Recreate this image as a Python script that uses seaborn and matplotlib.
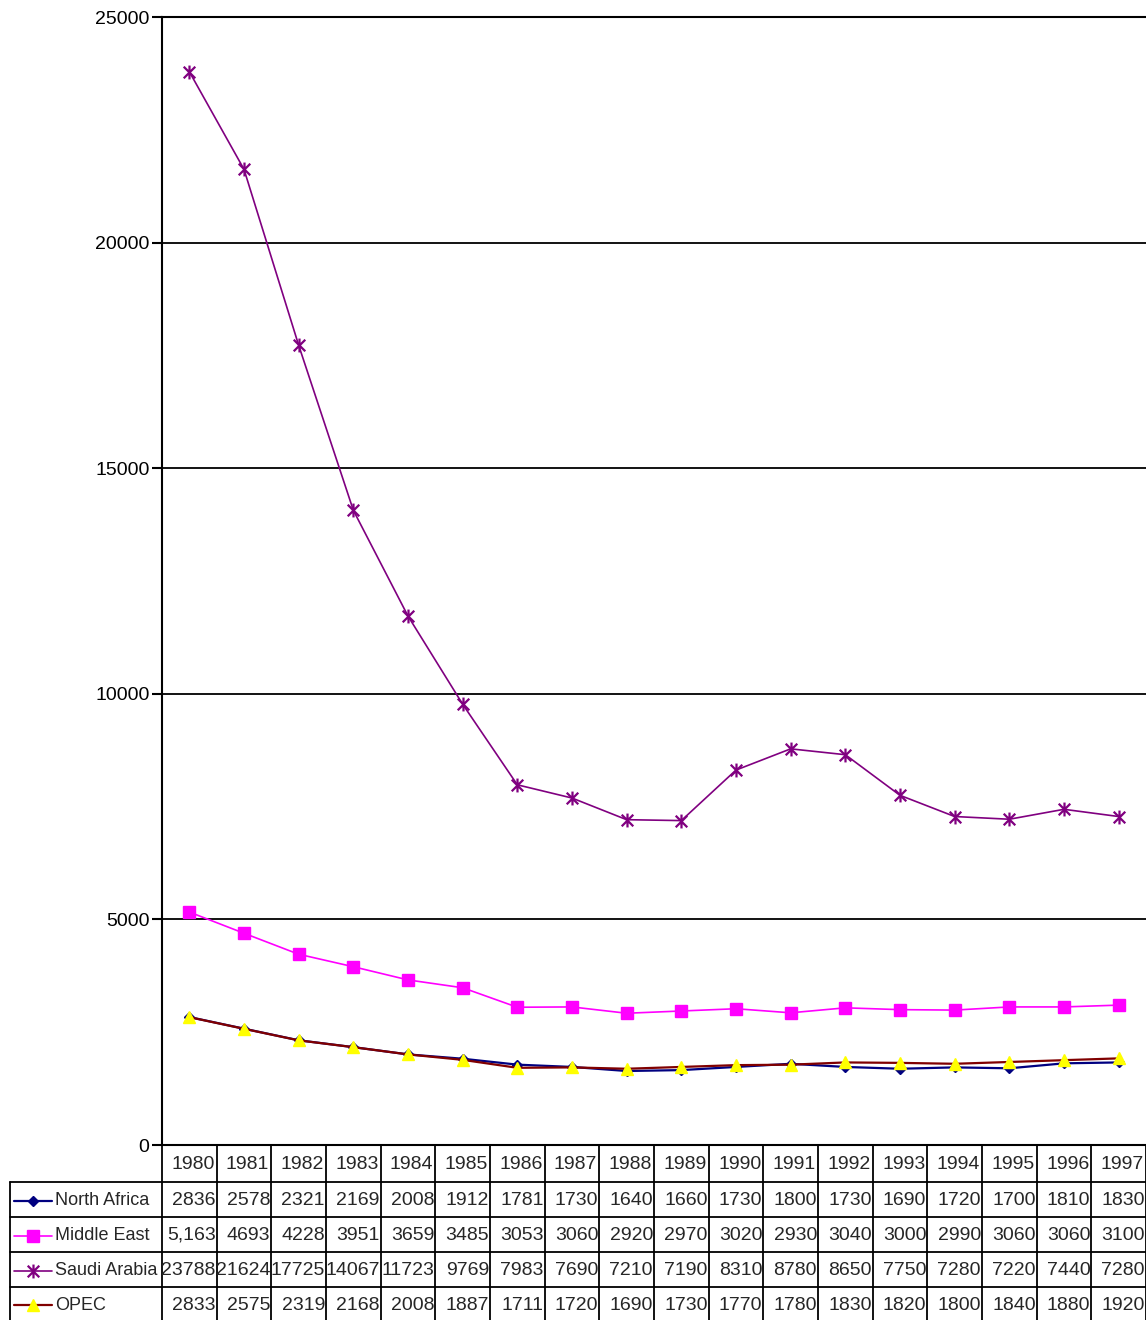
import matplotlib
matplotlib.use("Agg")
import matplotlib.pyplot as plt
from matplotlib.path import Path
from matplotlib.lines import Line2D
import seaborn as sns
import pandas as pd

# data
years = [1980, 1981, 1982, 1983, 1984, 1985, 1986, 1987, 1988,
         1989, 1990, 1991, 1992, 1993, 1994, 1995, 1996, 1997]
north_africa = [2836, 2578, 2321, 2169, 2008, 1912, 1781, 1730, 1640,
                1660, 1730, 1800, 1730, 1690, 1720, 1700, 1810, 1830]
middle_east = [5163, 4693, 4228, 3951, 3659, 3485, 3053, 3060, 2920,
               2970, 3020, 2930, 3040, 3000, 2990, 3060, 3060, 3100]
saudi_arabia = [23788, 21624, 17725, 14067, 11723, 9769, 7983, 7690, 7210,
                7190, 8310, 8780, 8650, 7750, 7280, 7220, 7440, 7280]
opec = [2833, 2575, 2319, 2168, 2008, 1887, 1711, 1720, 1690,
        1730, 1770, 1780, 1830, 1820, 1800, 1840, 1880, 1920]
series_names = ["North Africa", "Middle East", "Saudi Arabia", "OPEC"]
y_ticks = [0, 5000, 10000, 15000, 20000, 25000]

# excel style asterisk: an X plus a vertical bar
star = Path([(-1, -1), (1, 1), (-1, 1), (1, -1), (0, -1.2), (0, 1.2)],
            [Path.MOVETO, Path.LINETO, Path.MOVETO, Path.LINETO, Path.MOVETO, Path.LINETO])

styles = {
    "North Africa": dict(color="#000080", marker="D", mfc="#000080", mec="#000080", ms=5.5, lw=1.6),
    "Middle East": dict(color="#FF00FF", marker="s", mfc="#FF00FF", mec="#FF00FF", ms=8, lw=1.2),
    "Saudi Arabia": dict(color="#800080", marker=star, mfc="none", mec="#800080", ms=10, lw=1.2, mew=1.6),
    "OPEC": dict(color="#800000", marker="^", mfc="#FFFF00", mec="#FFFF00", ms=9, lw=1.6),
}

df = pd.DataFrame({"pos": range(len(years)), "year": years,
                   "North Africa": north_africa, "Middle East": middle_east,
                   "Saudi Arabia": saudi_arabia, "OPEC": opec})

sns.set_style("white")
plt.rcParams["font.family"] = ["Liberation Sans", "DejaVu Sans"]

W, H = 1146, 1320
fig = plt.figure(figsize=(W / 100, H / 100), dpi=100)
fig.patch.set_facecolor("white")

left, right, top, bottom = 162, 1146, 17, 1145
ax = fig.add_axes([left / W, 1 - bottom / H, (right - left) / W, (bottom - top) / H])

for name in series_names:
    st = styles[name]
    sns.lineplot(data=df, x="pos", y=name, ax=ax, color=st["color"], linewidth=st["lw"],
                 marker=st["marker"], markersize=st["ms"], markerfacecolor=st["mfc"],
                 markeredgecolor=st["mec"], markeredgewidth=st.get("mew", 1), clip_on=False)

ax.set_xlim(-0.5, len(years) - 0.5)
ax.set_ylim(0, 25000)
ax.set_yticks(y_ticks)
ax.set_xticks([])
ax.set_xlabel("")
ax.set_ylabel("")
ax.grid(axis="y", color="black", linewidth=1.3)
ax.set_axisbelow(True)
for side in ["left", "bottom", "top"]:
    ax.spines[side].set_visible(True)
    ax.spines[side].set_color("black")
    ax.spines[side].set_linewidth(1.5)
ax.spines["right"].set_visible(False)
ax.tick_params(axis="y", left=True, length=7, width=1.5, color="black", labelsize=14, pad=2,
               labelcolor="black")

# data table drawn in pixel coords on an overlay axes
tx = fig.add_axes([0, 0, 1, 1])
tx.set_xlim(0, W)
tx.set_ylim(H, 0)
tx.axis("off")

col_w = (right - left) / len(years)
row_edges = [bottom, 1182, 1217, 1252, 1287, 1321]
lab_left = 10
lc = dict(color="black", linewidth=1.3)

for r in row_edges[1:]:
    tx.plot([lab_left, right], [r, r], **lc)
for i in range(len(years) + 1):
    xv = left + i * col_w
    tx.plot([xv, xv], [bottom, H], **lc)
tx.plot([lab_left, lab_left], [row_edges[1], H], **lc)

fs = 14
for i, yr in enumerate(years):
    tx.text(left + (i + 1) * col_w - 2, (row_edges[0] + row_edges[1]) / 2 + 1, str(yr),
            ha="right", va="center", fontsize=fs)

values = [north_africa, middle_east, saudi_arabia, opec]
for r, (name, vals) in enumerate(zip(series_names, values)):
    yc = (row_edges[r + 1] + row_edges[r + 2]) / 2 + 1
    labels = [str(v) for v in vals]
    if name == "Middle East":
        labels[0] = f"{vals[0]:,}"
    for i, lab in enumerate(labels):
        tx.text(left + (i + 1) * col_w - 1, yc, lab, ha="right", va="center", fontsize=fs)
    st = styles[name]
    tx.add_line(Line2D([14, 52], [yc, yc], color=st["color"], linewidth=st["lw"]))
    tx.add_line(Line2D([33], [yc], marker=st["marker"], markersize=st["ms"],
                       markerfacecolor=st["mfc"], markeredgecolor=st["mec"],
                       markeredgewidth=st.get("mew", 1), linestyle="none"))
    tx.text(55, yc, name, ha="left", va="center", fontsize=13)

fig.savefig("out.png", dpi=100, facecolor="white")
